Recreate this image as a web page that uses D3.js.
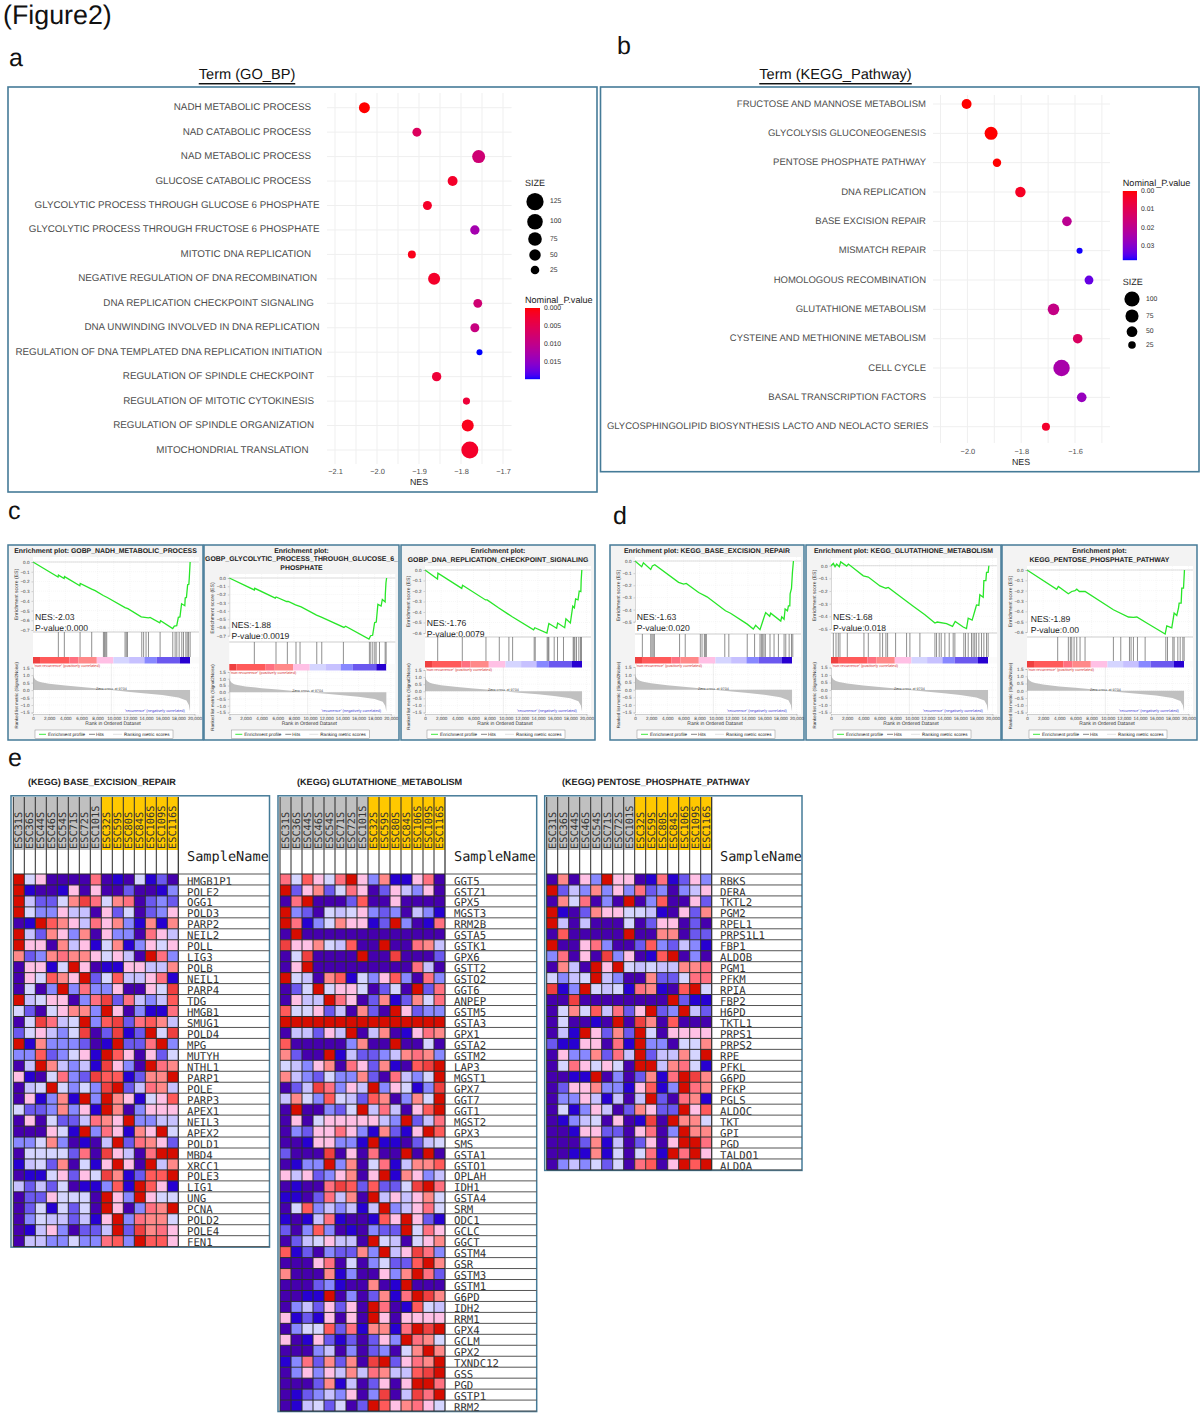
<!DOCTYPE html>
<html>
<head>
<meta charset="utf-8">
<script src="https://cdn.jsdelivr.net/npm/d3@7"></script>
<style>
html,body{margin:0;padding:0;background:#fff}
svg{display:block;text-rendering:geometricPrecision}
text{font-family:"Liberation Sans",Arial,sans-serif}
.mono{font-family:"DejaVu Sans Mono",monospace}
</style>
</head>
<body>
<svg id="fig" width="1200" height="1413"></svg>
<script>
// ---- Dot plot a: GO biological process terms ----
const goTerms = ["NADH METABOLIC PROCESS","NAD CATABOLIC PROCESS","NAD METABOLIC PROCESS","GLUCOSE CATABOLIC PROCESS","GLYCOLYTIC PROCESS THROUGH GLUCOSE 6 PHOSPHATE","GLYCOLYTIC PROCESS THROUGH FRUCTOSE 6 PHOSPHATE","MITOTIC DNA REPLICATION","NEGATIVE REGULATION OF DNA RECOMBINATION","DNA REPLICATION CHECKPOINT SIGNALING","DNA UNWINDING INVOLVED IN DNA REPLICATION","REGULATION OF DNA TEMPLATED DNA REPLICATION INITIATION","REGULATION OF SPINDLE CHECKPOINT","REGULATION OF MITOTIC CYTOKINESIS","REGULATION OF SPINDLE ORGANIZATION","MITOCHONDRIAL TRANSLATION"];
const goNes = [-2.03,-1.905,-1.758,-1.82,-1.88,-1.767,-1.917,-1.864,-1.76,-1.767,-1.756,-1.858,-1.787,-1.784,-1.779];
const goSize = [45,28,67,36,28,31,21,56,27,28,10,31,16,56,122];
const goP = [0,0.006,0.008,0.002,0.0019,0.013,0.001,0.002,0.0079,0.009,0.0196,0.003,0.003,0.001,0.002];
const goSizeLegend = [125,100,75,50,25];
const goPTicks = [0,0.005,0.010,0.015];
const goLabelEnds = [311,311,311,311,319.6,319.6,311,317,314,319.6,322,314,314,314,308.5];

// ---- Dot plot b: KEGG pathways ----
const keggTerms = ["FRUCTOSE AND MANNOSE METABOLISM","GLYCOLYSIS GLUCONEOGENESIS","PENTOSE PHOSPHATE PATHWAY","DNA REPLICATION","BASE EXCISION REPAIR","MISMATCH REPAIR","HOMOLOGOUS RECOMBINATION","GLUTATHIONE METABOLISM","CYSTEINE AND METHIONINE METABOLISM","CELL CYCLE","BASAL TRANSCRIPTION FACTORS","GLYCOSPHINGOLIPID BIOSYNTHESIS LACTO AND NEOLACTO SERIES"];
const keggNes = [-2.003,-1.912,-1.89,-1.803,-1.63,-1.583,-1.548,-1.68,-1.59,-1.65,-1.575,-1.708];
const keggSize = [43,73,31,47,40,16,34,58,40,117,40,28];
const keggP = [0,0,0,0.003,0.020,0.037,0.033,0.018,0.012,0.024,0.027,0.004];
const keggSizeLegend = [100,75,50,25];
const keggPTicks = [0,0.01,0.02,0.03];
const keggLabelEnds = [926,926,926,926,926,926,926,926,926,926,926,928.4];

// ---- GSEA running enrichment score: [rank, ES] ----
const esNadh = [[0,0],[3100,-.155],[3150,-.135],[3850,-.17],[3900,-.15],[5800,-.245],[5850,-.22],[7270,-.28],[7700,-.295],[8700,-.345],[9200,-.365],[11400,-.47],[11750,-.48],[13400,-.565],[14300,-.575],[14500,-.57],[15700,-.625],[15800,-.605],[17300,-.685],[17500,-.66],[17800,-.655],[18000,-.57],[18200,-.565],[18400,-.43],[18800,-.45],[18850,-.37],[19000,-.365],[19150,-.235],[19300,-.23],[19350,-.17],[19460,0]];
const esGlucose = [[0,0],[3100,-.145],[3150,-.125],[5700,-.245],[5800,-.23],[7100,-.285],[7300,-.285],[8200,-.325],[8900,-.35],[10800,-.45],[11400,-.475],[14200,-.6],[14400,-.585],[17300,-.74],[17500,-.70],[17750,-.695],[18000,-.54],[18200,-.535],[18400,-.32],[18800,-.34],[18950,-.26],[19300,-.29],[19320,-.2],[19400,-.06],[19480,0]];
const esCheckpoint = [[0,0],[1550,-.085],[1600,-.03],[4550,-.175],[4650,-.145],[7500,-.285],[7700,-.285],[9100,-.36],[10300,-.42],[10800,-.445],[13450,-.57],[13600,-.55],[15100,-.6],[15340,-.51],[16300,-.555],[16420,-.505],[17300,-.55],[17450,-.465],[18000,-.505],[18300,-.345],[18500,-.36],[18650,-.275],[18950,-.285],[19100,-.2],[19300,-.205],[19340,-.1],[19420,0]];
const esBer = [[0,0],[830,-.047],[1040,-.015],[1950,-.07],[2150,-.04],[2450,-.03],[5400,-.176],[6020,-.19],[6350,-.185],[7880,-.26],[8920,-.295],[11200,-.41],[11830,-.43],[13900,-.52],[14650,-.56],[14940,-.53],[15480,-.565],[15680,-.525],[15970,-.465],[16180,-.425],[16680,-.455],[16800,-.43],[18050,-.495],[18170,-.46],[18460,-.48],[18590,-.395],[18880,-.41],[19000,-.37],[19170,-.37],[19210,-.27],[19380,-.225],[19500,-.09],[19620,0]];
const esGlutathione = [[0,0],[290,.018],[500,-.008],[700,.013],[1030,-.008],[1200,.03],[1940,-.003],[2150,.013],[4000,-.08],[4620,-.09],[6060,-.16],[6800,-.178],[7090,-.172],[8120,-.222],[10180,-.32],[11630,-.387],[12870,-.453],[13150,-.445],[14310,-.458],[15050,-.479],[15380,-.44],[16370,-.484],[16780,-.497],[16990,-.414],[17480,-.43],[17800,-.36],[18020,-.31],[18310,-.314],[18430,-.23],[18850,-.25],[18930,-.118],[19180,-.118],[19260,-.052],[19460,-.052],[19550,0]];
const esPentose = [[0,0],[3680,-.186],[3880,-.16],[5120,-.23],[5540,-.208],[5950,-.2],[6160,-.186],[6490,-.208],[7190,-.208],[10700,-.385],[12560,-.455],[13180,-.458],[13600,-.455],[14830,-.513],[17110,-.62],[17310,-.54],[17930,-.56],[18220,-.417],[18550,-.44],[18760,-.37],[18840,-.32],[19090,-.32],[19170,-.176],[19380,-.176],[19500,0]];

// ---- GSEA hit ranks ----
const hitsNadh = [3140,3880,5830,7270,8720,8850,9000,9130,11400,11550,11700,13470,13700,14000,14300,15740,17310,17600,17810,18100,18430,18640,18930,19100,19260,19460];
const hitsGlucose = [3100,5785,7190,8260,8760,10830,11450,14130,17350,17520,17770,18020,18180,18600,19300,19420];
const hitsCheckpoint = [1570,4620,7550,9200,10390,10850,13520,13650,15130,15250,15340,16000,16410,17150,18350,18450,18560,18760,19050,19260,19380];
const hitsBer = [910,1950,2100,2250,2400,5520,6220,8090,8300,8590,8710,8840,11120,11620,13900,14810,15480,15650,15810,15970,16140,16720,17220,17760,18460,18670,19090,19380,19540];
const hitsGlutathione = [290,620,900,1110,2020,4080,4620,6060,6390,6800,7010,8000,9360,9770,11010,12870,13070,13400,13650,14100,14640,15130,15340,16450,16660,16990,17400,17600,17800,18000,18310,18640,18930,19260,19460];
const hitsPentose = [3800,5120,5370,5540,5830,6160,6570,7190,10700,11610,12690,12890,13180,13680,14630,17190,17400,18060,18220,18680,18970,19300,19460];

// ---- Ranked list metric, shared by all six enrichment plots ----
const metricRanks = [0,100,300,600,1000,2000,4000,6000,8000,9704,12000,14000,16000,18000,19000,19300,19400,19450];
const metricValues = [1.05,0.85,0.7,0.6,0.53,0.43,0.3,0.2,0.1,0,-0.12,-0.22,-0.33,-0.5,-0.7,-1.0,-1.3,-1.45];
// Running colour band under the hits: rank breaks and fills
const bandBreaks = [0,870,4500,5630,7900,9960,11900,13800,15300,18200,19450];
const bandFills = ["#ef4040","#ff5a5a","#ff7080","#ff8989","#ffc0e5","#d5d5ff","#c7c1ff","#8888ff","#6b58ef","#2700d1"];
const rankTicks = d3.range(0,20001,2000);
const metricTicks = [1.5,1,0.5,0,-0.5,-1,-1.5];

// ---- Heat maps: one hex digit per sample, indexing heatPalette ----
const heatPalette = ["#4500ad","#2700d1","#6b58ef","#8888ff","#c7c1ff","#d5d5ff","#ffc0e5","#ff8989","#ff7080","#ff5a5a","#ef4040","#d60c00"];
const controlSamples = ["ESC31S","ESC36S","ESC44S","ESC46S","ESC54S","ESC71S","ESC72S","ESC101S"];
const caseSamples = ["ESC32S","ESC59S","ESC80S","ESC84S","ESC106S","ESC109S","ESC116S"];

const berGenes = ["HMGB1P1","POLE2","OGG1","POLD3","PARP2","NEIL2","POLL","LIG3","POLB","NEIL1","PARP4","TDG","HMGB1","SMUG1","POLD4","MPG","MUTYH","NTHL1","PARP1","POLE","PARP3","APEX1","NEIL3","APEX2","POLD1","MBD4","XRCC1","POLE3","LIG1","UNG","PCNA","POLD2","POLE4","FEN1"];
const berLevels = ["b56000080105120","b10016060020013","b42257a85780232","b53364406250236","01b976486731717","b42763706330864","b66074615713656","723787765640b83","06615b601166447","065976b25944681","0503b383360065a","b4566038a284349","52056773b603118","05a845b39a28974","256435a02a12b5a","b17333201b228b3","33923561b960625","04b74341a630b87","6105832a991277b","045b5353ab24874","061371b3b761569","52237361b703666","0605224876b3344","000651b386176b5","335730104b28762","05555280a6408bb","145270516b60b47","01156265a71299b","42425011391b961","02265550b63b655","02515250b60387b","035442416b38775","014630224b2a786","04433533893b996"];

const gshGenes = ["GGT5","GSTZ1","GPX5","MGST3","RRM2B","GSTA5","GSTK1","GPX6","GSTT2","GSTO2","GGT6","ANPEP","GSTM5","GSTA3","GPX1","GSTA2","GSTM2","LAP3","MGST1","GPX7","GGT7","GGT1","MGST2","GPX3","SMS","GSTA1","GSTO1","OPLAH","IDH1","GSTA4","SRM","ODC1","GCLC","GGCT","GSTM4","GSR","GSTM3","GSTM1","G6PD","IDH2","RRM1","GPX4","GCLM","GPX2","TXNDC12","GSS","PGD","GSTP1","RRM2"];
const gshLevels = ["859658b63711680","b26725860264360","08b000290060000","b32054563230431","b813576612b3018","0b0000000000000","a66754900b00874","05a0000b00a0002","06b000000000840","b54079153693083","025b56650250b28","0644b8602712758","9556240720b6233","bbbbbbbbbbbbbbb","044264b04701687","9000003700b0050","7200b1422347873","5436708627109ab","74325337208435b","024a8364b36513a","47539542970375b","0b00325b484069b","06056666643b248","0326686317216b9","00166331b110245","2000a060800b0b0","0133b3705814779","646236706b17634","01008a929225ab8","11028470b464675","059343414b34685","10148100196b621","20393010322b586","02456440b540567","912032273b46a83","0006805035229b7","700071300637b82","00023100701b000","0011b0302718ba7","03426260b801954","61216060b606666","035592817718bab","60162120263b875","0003403023057b7","13827270ab2687b","0363647487449ab","000271402606bb8","012343603a04a8b","01452502b967865"];

const pppGenes = ["RBKS","DERA","TKTL2","PGM2","RPEL1","PRPS1L1","FBP1","ALDOB","PGM1","PFKM","RPIA","FBP2","H6PD","TKTL1","PRPS1","PRPS2","RPE","PFKL","G6PD","PFKP","PGLS","ALDOC","TKT","GPI","PGD","TALDO1","ALDOA"];
const pppLevels = ["07063b660181263","b24373638230346","0758030b0390062","b10276655410627","b40400050266020","0900000b0077022","b00683002932431","38060a36019b030","0740b6b54544778","5345b4300722588","a13b545187109b5","00a00000000b211","057594826b23b42","050010b0a709000","041b6272b506666","21166081b330557","06337284b24475b","05865650bb47851","0011b0302718ba7","026673316913b87","033641404b20871","051364027622b69","013450601a0b775","001662206803b77","000271402606bb8","00117150581b8b6","034352508906b9b"];

// ---- Shared colours and helpers ----
const frameStroke = "#457b98";
const greyText = "#4d4d4d";
const pColor = d3.interpolateLab("#ff0000","#0000ff");
const svg = d3.select("#fig");

function txt(g,x,y,s,o={}){
  return g.append("text").attr("x",x).attr("y",y).text(s)
    .attr("font-size",o.size||10).attr("fill",o.fill||"#000")
    .attr("text-anchor",o.anchor||"start").attr("font-weight",o.weight||"normal")
    .attr("dominant-baseline",o.base||"central");
}

// Figure and panel headings
txt(svg,3,15,"(Figure2)",{size:26.8,fill:"#111"});
[["a",9,58],["b",617,46],["c",8,511],["d",613,516],["e",8,758]].forEach(d=>txt(svg,d[1],d[2],d[0],{size:25,fill:"#111"}));
[["Term (GO_BP)",247,75],["Term (KEGG_Pathway)",835.5,75]].forEach(d=>{
  txt(svg,d[1],d[2],d[0],{size:14.6,anchor:"middle",fill:"#111"}).attr("text-decoration","underline");
});

// Bubble plot: NES on x, term on y, dot area for gene-set size, colour for p-value
function bubblePlot(c){
  const g = svg.append("g");
  g.append("rect").attr("x",c.frame[0]).attr("y",c.frame[1]).attr("width",c.frame[2]-c.frame[0]).attr("height",c.frame[3]-c.frame[1])
    .attr("fill","#fff").attr("stroke",frameStroke).attr("stroke-width",1.6);
  const x = d3.scaleLinear().domain(c.xDomain).range(c.xRange);
  const y = d3.scalePoint().domain(c.terms).range(c.yRange);
  const r = d3.scaleSqrt().domain(c.sizeDomain).range(c.rRange);
  const color = v=>pColor(v/c.pMax);
  g.append("g").selectAll("line").data(c.grid).join("line")
    .attr("x1",d=>x(d)).attr("x2",d=>x(d)).attr("y1",c.gridTop).attr("y2",c.gridBottom)
    .attr("stroke","#efefef").attr("stroke-width",1);
  g.append("g").selectAll("line").data(c.terms).join("line")
    .attr("x1",c.gridX[0]).attr("x2",c.gridX[1]).attr("y1",d=>y(d)).attr("y2",d=>y(d))
    .attr("stroke","#efefef").attr("stroke-width",1);
  c.terms.forEach((t,i)=>txt(g,c.labelEnds[i],y(t),t,{size:c.labelSize,anchor:"end",fill:greyText}));
  g.append("g").selectAll("circle").data(c.terms).join("circle")
    .attr("cx",(d,i)=>x(c.nes[i])).attr("cy",d=>y(d))
    .attr("r",(d,i)=>r(c.size[i])).attr("fill",(d,i)=>color(c.p[i]));
  // NES axis
  const ax = g.append("g").attr("transform",`translate(0,${c.tickY})`)
    .call(d3.axisBottom(x).tickValues(c.ticks).tickSize(0).tickPadding(0).tickFormat(d3.format(".1f")));
  ax.select(".domain").remove();
  ax.selectAll("text").attr("font-size",7.4).attr("fill",greyText).attr("font-family","Liberation Sans").attr("dy",0).attr("dominant-baseline","central");
  txt(g,c.nesX,c.nesY,"NES",{size:8.8,anchor:"middle",fill:"#222"});
  // Size legend
  txt(g,c.legX,c.sizeTitleY,"SIZE",{size:9,fill:"#222"});
  c.sizeLegend.forEach((s,i)=>{
    g.append("circle").attr("cx",c.sizeDotX).attr("cy",c.sizeDotY[i]).attr("r",r(s)).attr("fill","#000");
    txt(g,c.sizeTextX,c.sizeDotY[i],s,{size:6.8,fill:"#333"});
  });
  // P-value colour bar, drawn as thin slices of the gradient
  txt(g,c.legX,c.pTitleY,"Nominal_P.value",{size:9.1,fill:"#222"});
  const py = d3.scaleLinear().domain([0,c.pMax]).range(c.barY);
  const steps = d3.range(0,c.barY[1]-c.barY[0]);
  g.append("g").selectAll("rect").data(steps).join("rect")
    .attr("x",c.legX).attr("width",c.barW).attr("y",d=>c.barY[0]+d).attr("height",1.2)
    .attr("fill",d=>color(py.invert(c.barY[0]+d+.5)));
  c.pTicks.forEach(t=>txt(g,c.barTextX,py(t),d3.format(c.pFormat)(t),{size:6.8,fill:"#333"}));
}

bubblePlot({frame:[8,87,597,492],xDomain:[-2.1,-1.7],xRange:[335,503],gridX:[327,511.6],terms:goTerms,yRange:[107.7,450],
  sizeDomain:[10,125],rRange:[3,8.6],pMax:0.0196,grid:[-2.1,-2.05,-2,-1.95,-1.9,-1.85,-1.8,-1.75,-1.7],gridTop:93,gridBottom:464,
  labelEnds:goLabelEnds,labelSize:9.82,nes:goNes,size:goSize,p:goP,tickY:471.7,ticks:[-2.1,-2,-1.9,-1.8,-1.7],nesX:419,nesY:481.5,
  legX:525,sizeTitleY:183,sizeLegend:goSizeLegend,sizeDotX:535,sizeDotY:[201.7,221.7,239,255,270],sizeTextX:550,
  pTitleY:300,barY:[308,379],barW:15,barTextX:544,pTicks:goPTicks,pFormat:".3f"});
bubblePlot({frame:[600.5,87,1199,471.7],xDomain:[-2,-1.6],xRange:[967.4,1075],gridX:[933,1110],terms:keggTerms,yRange:[104,426.7],
  sizeDomain:[25,100],rRange:[3.8,7.6],pMax:0.0372,grid:[-2.1,-2,-1.9,-1.8,-1.7,-1.6,-1.5],gridTop:95,gridBottom:443,
  labelEnds:keggLabelEnds,labelSize:9.5,nes:keggNes,size:keggSize,p:keggP,tickY:451.7,ticks:[-2,-1.8,-1.6],nesX:1021,nesY:461.7,
  legX:1122.8,sizeTitleY:281.7,sizeLegend:keggSizeLegend,sizeDotX:1132,sizeDotY:[299,316,331.7,345],sizeTextX:1146,
  pTitleY:182.7,barY:[191,260],barW:14.2,barTextX:1141,pTicks:keggPTicks,pFormat:".2f"});

// GSEA enrichment plot: ES curve, hits, colour band and ranked metric
function gseaPlot(c){
  const g = svg.append("g");
  g.append("rect").attr("x",c.frame[0]).attr("y",545).attr("width",c.frame[1]-c.frame[0]).attr("height",195)
    .attr("fill","#f3f3f3").attr("stroke",frameStroke).attr("stroke-width",1.5);
  const p0 = c.p0, p1 = p0+161.5, pr = p0+166;
  const x = d3.scaleLinear().domain([0,20000]).range([p0,p1]);
  const yEs = d3.scaleLinear().domain([0,c.esMin]).range([c.es0,c.esMinY]);
  const yM = d3.scaleLinear().domain([1.5,-1.5]).range([c.m15,712.5]);
  g.append("rect").attr("x",p0).attr("y",c.top).attr("width",pr-p0).attr("height",714-c.top).attr("fill","#fff");

  const tl = c.title;
  const ty0 = tl.length===3?551:551.7;
  tl.forEach((t,i)=>txt(g,(c.frame[0]+c.frame[1])/2,ty0+i*8.7,t,{size:6.9,anchor:"middle",weight:"bold",fill:"#222"}).attr("font-family","DejaVu Sans"));

  // Gridlines behind the ES curve and the metric panel
  const gridG = g.append("g").attr("stroke","#eeeeee").attr("stroke-width",.5).attr("stroke-dasharray","1 1");
  rankTicks.slice(1).forEach(t=>{
    gridG.append("line").attr("x1",x(t)).attr("x2",x(t)).attr("y1",c.top).attr("y2",c.bottom);
    gridG.append("line").attr("x1",x(t)).attr("x2",x(t)).attr("y1",c.m15).attr("y2",714);
  });
  const esTicks = d3.range(0,c.esMin-.001,-.1);
  esTicks.forEach(t=>gridG.append("line").attr("x1",p0).attr("x2",pr).attr("y1",yEs(t)).attr("y2",yEs(t)));
  metricTicks.forEach(t=>gridG.append("line").attr("x1",p0).attr("x2",pr).attr("y1",yM(t)).attr("y2",yM(t)));

  g.append("line").attr("x1",p0).attr("x2",pr).attr("y1",c.es0).attr("y2",c.es0).attr("stroke","#c8c8c8").attr("stroke-width",.6);
  g.append("path").datum(c.es).attr("fill","none").attr("stroke","#28e628").attr("stroke-width",1.3)
    .attr("d",d3.line().x(d=>x(d[0])).y(d=>yEs(d[1])));

  // Section divider
  g.append("line").attr("x1",p0).attr("x2",pr).attr("y1",c.bottom).attr("y2",c.bottom).attr("stroke","#999").attr("stroke-width",.5);

  // Hits
  g.append("g").selectAll("line").data(c.hits).join("line")
    .attr("x1",d=>x(d)).attr("x2",d=>x(d)).attr("y1",c.bottom).attr("y2",c.barTop)
    .attr("stroke","#555").attr("stroke-width",1).attr("stroke-opacity",.65);

  // Colour band
  g.append("g").selectAll("rect").data(bandFills).join("rect")
    .attr("x",(d,i)=>x(bandBreaks[i])).attr("width",(d,i)=>x(bandBreaks[i+1])-x(bandBreaks[i]))
    .attr("y",c.barTop).attr("height",6.5).attr("fill",d=>d);
  g.append("rect").attr("x",x(19450)).attr("y",c.barTop).attr("width",pr-x(19450)).attr("height",6.5).attr("fill","#fbfbfb");

  // Ranked metric area
  const mpts = metricRanks.map((r,i)=>[r,metricValues[i]]);
  g.append("path").datum(mpts).attr("fill","#c0c0c0").attr("stroke","none")
    .attr("d",d3.area().x(d=>x(d[0])).y0(yM(0)).y1(d=>yM(d[1])));
  g.append("line").attr("x1",x(9704)).attr("x2",x(9704)).attr("y1",c.barTop+6.5).attr("y2",714)
    .attr("stroke","#aaa").attr("stroke-width",.4).attr("stroke-dasharray","1 1");
  txt(g,p0+1,c.barTop+8.3,"'non-recurrence' (positively correlated)",{size:3.9,fill:"#d43030"});
  txt(g,x(9704),yM(0)-.8,"Zero cross at 9704",{size:3.7,anchor:"middle",fill:"#444"});
  txt(g,x(15100),710.2,"'recurrence' (negatively correlated)",{size:3.9,anchor:"middle",fill:"#3a3ad0"});

  // Axes
  const styleAxis = a=>{
    a.selectAll("text").attr("font-size",4.6).attr("fill","#444").attr("font-family","DejaVu Sans");
    a.select(".domain").attr("stroke","#999").attr("stroke-width",.4);
    a.selectAll(".tick line").attr("stroke","#999").attr("stroke-width",.4);
  };
  styleAxis(g.append("g").attr("transform",`translate(${p0},0)`).call(d3.axisLeft(yEs).tickValues(esTicks).tickSize(1.5).tickPadding(2).tickFormat(d3.format(".1f"))));
  styleAxis(g.append("g").attr("transform",`translate(${p0},0)`).call(d3.axisLeft(yM).tickValues(metricTicks).tickSize(1.5).tickPadding(2).tickFormat(d3.format(".1f"))));
  styleAxis(g.append("g").attr("transform",`translate(0,714)`).call(d3.axisBottom(x).tickValues(rankTicks).tickSize(1.5).tickPadding(1).tickFormat(d3.format(","))));
  txt(g,p0+80,724,"Rank in Ordered Dataset",{size:5,anchor:"middle",fill:"#333"}).attr("font-family","DejaVu Sans");
  g.append("text").attr("transform",`translate(${p0-16.5},${(c.top+c.bottom)/2}) rotate(-90)`).attr("text-anchor","middle").attr("font-size",5.1).attr("fill","#333").attr("font-family","DejaVu Sans").attr("dominant-baseline","central").text("Enrichment score (ES)");
  g.append("text").attr("transform",`translate(${p0-17},${(c.m15+723)/2}) rotate(-90)`).attr("text-anchor","middle").attr("font-size",4.5).attr("fill","#333").attr("font-family","DejaVu Sans").attr("dominant-baseline","central").text("Ranked list metric (Signal2Noise)");

  // Annotated statistics
  txt(g,c.nesX,c.nesY,c.nesLabel,{size:8.6,fill:"#222"});
  txt(g,c.nesX,c.nesY+11,c.pLabel,{size:8.6,fill:"#222"});

  // Legend strip
  const lx = p0+2, ly = 730;
  g.append("rect").attr("x",lx).attr("y",ly).attr("width",138).attr("height",8.5).attr("fill","#fff").attr("stroke","#777").attr("stroke-width",.4);
  g.append("line").attr("x1",lx+4).attr("x2",lx+11).attr("y1",ly+4.3).attr("y2",ly+4.3).attr("stroke","#28e628").attr("stroke-width",.9);
  txt(g,lx+13,ly+4.4,"Enrichment profile",{size:4.6,fill:"#222"}).attr("font-family","DejaVu Sans");
  g.append("line").attr("x1",lx+54).attr("x2",lx+60).attr("y1",ly+4.3).attr("y2",ly+4.3).attr("stroke","#333").attr("stroke-width",.6);
  txt(g,lx+61,ly+4.4,"Hits",{size:4.6,fill:"#222"}).attr("font-family","DejaVu Sans");
  g.append("line").attr("x1",lx+78).attr("x2",lx+87).attr("y1",ly+4.3).attr("y2",ly+4.3).attr("stroke","#ccc").attr("stroke-width",.6);
  txt(g,lx+89,ly+4.4,"Ranking metric scores",{size:4.6,fill:"#222"}).attr("font-family","DejaVu Sans");
}

gseaPlot({frame:[8,203],p0:33,title:["Enrichment plot: GOBP_NADH_METABOLIC_PROCESS"],top:557,bottom:632,barTop:657,es0:562,esMin:-.7,esMinY:630,m15:667.7,es:esNadh,hits:hitsNadh,nesX:35,nesY:617,nesLabel:"NES:-2.03",pLabel:"P-value:0.000"});
gseaPlot({frame:[204,399],p0:229.3,title:["Enrichment plot:","GOBP_GLYCOLYTIC_PROCESS_THROUGH_GLUCOSE_6_","PHOSPHATE"],top:574,bottom:642,barTop:664,es0:578,esMin:-.7,esMinY:635.7,m15:672,es:esGlucose,hits:hitsGlucose,nesX:231.5,nesY:625,nesLabel:"NES:-1.88",pLabel:"P-value:0.0019"});
gseaPlot({frame:[401,595],p0:425,title:["Enrichment plot:","GOBP_DNA_REPLICATION_CHECKPOINT_SIGNALING"],top:566,bottom:637,barTop:661,es0:570,esMin:-.6,esMinY:633,m15:670,es:esCheckpoint,hits:hitsCheckpoint,nesX:426.7,nesY:623,nesLabel:"NES:-1.76",pLabel:"P-value:0.0079"});
gseaPlot({frame:[610,804],p0:635,title:["Enrichment plot: KEGG_BASE_EXCISION_REPAIR"],top:557,bottom:634,barTop:657,es0:561,esMin:-.5,esMinY:621.7,m15:667,es:esBer,hits:hitsBer,nesX:636.7,nesY:617,nesLabel:"NES:-1.63",pLabel:"P-value:0.020"});
gseaPlot({frame:[806,1001],p0:831,title:["Enrichment plot: KEGG_GLUTATHIONE_METABOLISM"],top:558,bottom:633,barTop:657,es0:565.7,esMin:-.5,esMinY:629,m15:667.5,es:esGlutathione,hits:hitsGlutathione,nesX:833,nesY:617,nesLabel:"NES:-1.68",pLabel:"P-value:0.018"});
gseaPlot({frame:[1002,1197],p0:1027,title:["Enrichment plot:","KEGG_PENTOSE_PHOSPHATE_PATHWAY"],top:566,bottom:637,barTop:661,es0:570,esMin:-.6,esMinY:632,m15:669,es:esPentose,hits:hitsPentose,nesX:1030.7,nesY:618.7,nesLabel:"NES:-1.89",pLabel:"P-value:0.00"});

// Expression heat map with sample header and gene names
function heatMap(c){
  const g = svg.append("g");
  const samples = controlSamples.concat(caseSamples);
  const bottom = 874+c.genes.length*10.96;
  txt(g,c.titleX,782,c.title,{size:9.1,weight:"bold",fill:"#222"});
  const x = d3.scaleBand().domain(samples).range([c.x0,c.x0+165]);
  const y = d3.scaleBand().domain(c.genes).range([874,bottom]);
  const fill = d3.scaleOrdinal().domain(d3.range(heatPalette.length)).range(heatPalette);
  g.append("rect").attr("x",c.frameX).attr("y",795.8).attr("width",c.frameW).attr("height",bottom-795.8+.5).attr("fill","#fff").attr("stroke",frameStroke).attr("stroke-width",1.5);
  // Sample header
  samples.forEach((s,i)=>{
    g.append("rect").attr("x",x(s)).attr("y",797).attr("width",x.bandwidth()).attr("height",53).attr("fill",i<controlSamples.length?"#c0c0c0":"#ffc800");
    g.append("text").attr("class","mono").attr("transform",`translate(${x(s)+x.bandwidth()-2.2},849) rotate(-90)`)
      .attr("font-size",10.3).attr("fill","#333").text(s);
  });
  // Cells
  c.genes.forEach((gene,r)=>{
    g.append("g").selectAll("rect").data(c.levels[r].split("")).join("rect")
      .attr("x",(d,i)=>x(samples[i])).attr("y",y(gene)).attr("width",x.bandwidth()).attr("height",y.bandwidth())
      .attr("fill",d=>fill(parseInt(d,16)));
    g.append("text").attr("class","mono").attr("x",c.labelX).attr("y",y(gene)+y.bandwidth()-.4).attr("font-size",10.7).attr("fill","#333").text(gene);
  });
  // Cell and row rules
  const rule = "#2a2a2a";
  samples.concat([null]).forEach((s,i)=>{
    const xp = c.x0+i*x.bandwidth();
    g.append("line").attr("x1",xp).attr("x2",xp).attr("y1",797).attr("y2",bottom).attr("stroke",rule).attr("stroke-width",i===samples.length?1.2:1);
  });
  d3.range(c.genes.length+1).forEach(i=>{
    const yp = 874+i*y.bandwidth();
    g.append("line").attr("x1",c.x0).attr("x2",c.x0+165).attr("y1",yp).attr("y2",yp).attr("stroke",rule).attr("stroke-width",1);
    g.append("line").attr("x1",c.x0+165).attr("x2",c.frameX+c.frameW).attr("y1",yp).attr("y2",yp).attr("stroke","#555").attr("stroke-width",1);
  });
  g.append("text").attr("class","mono").attr("x",c.labelX).attr("y",857).attr("dominant-baseline","central").attr("font-size",13.6).attr("fill","#222").text("SampleName");
}

heatMap({title:"(KEGG) BASE_EXCISION_REPAIR",titleX:28,x0:13.3,frameX:11,frameW:258.5,labelX:187,genes:berGenes,levels:berLevels});
heatMap({title:"(KEGG) GLUTATHIONE_METABOLISM",titleX:297,x0:280,frameX:278,frameW:258.7,labelX:454,genes:gshGenes,levels:gshLevels});
heatMap({title:"(KEGG) PENTOSE_PHOSPHATE_PATHWAY",titleX:562,x0:546.7,frameX:544.7,frameW:257.3,labelX:720,genes:pppGenes,levels:pppLevels});
</script>
</body>
</html>
